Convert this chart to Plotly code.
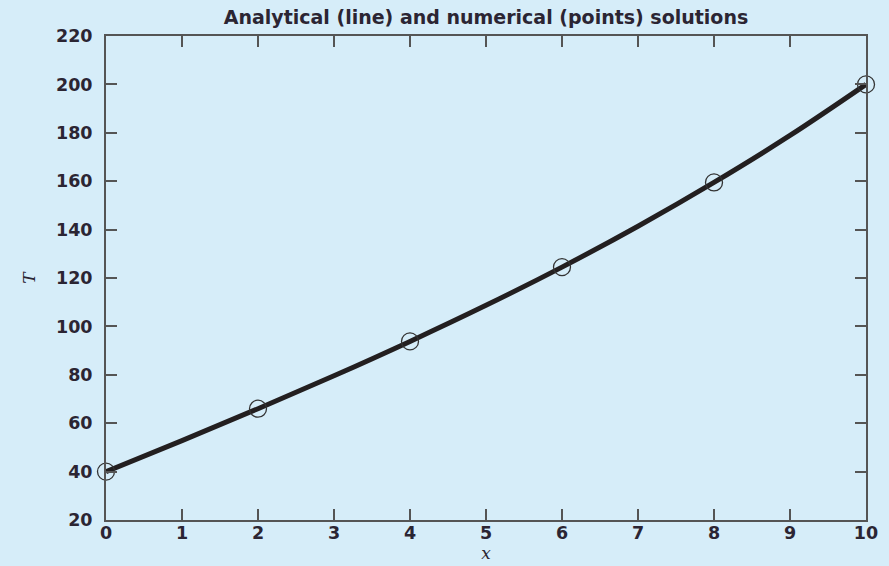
import plotly.graph_objects as go

# Analytical solution (line), read at integer x
x_line = [0, 1, 2, 3, 4, 5, 6, 7, 8, 9, 10]
T_line = [40.0, 52.8, 66.0, 79.6, 93.8, 108.7, 124.5, 141.4, 159.5, 178.9, 200.0]

# Numerical solution (points)
x_pts = [0, 2, 4, 6, 8, 10]
T_pts = [40.0, 66.0, 93.8, 124.5, 159.5, 200.0]

x_ticks = [0, 1, 2, 3, 4, 5, 6, 7, 8, 9, 10]
y_ticks = [20, 40, 60, 80, 100, 120, 140, 160, 180, 200, 220]

bg = "#d6edf9"
ink = "#2b2533"
fig = go.Figure()
fig.add_trace(go.Scatter(x=x_line, y=T_line, mode="lines", line=dict(color="#231f20", width=5, shape="spline"),
                         showlegend=False, cliponaxis=False))
fig.add_trace(go.Scatter(x=x_pts, y=T_pts, mode="markers",
                         marker=dict(symbol="circle-open", size=17, color="#333333", line=dict(width=1.3, color="#333333")),
                         showlegend=False, cliponaxis=False))

tickfont = dict(family="DejaVu Sans, Verdana, sans-serif", size=17.5, color=ink, weight="bold")
fig.update_layout(
    width=889, height=566,
    paper_bgcolor=bg, plot_bgcolor=bg,
    margin=dict(l=106, r=23, t=36, b=46, autoexpand=False),
    title=dict(text="<b>Analytical (line) and numerical (points) solutions</b>", x=0.5, xref="paper", xanchor="center",
               y=0.97, yref="container", yanchor="middle",
               font=dict(family="DejaVu Sans, Verdana, sans-serif", size=19, color=ink)),
    xaxis=dict(range=[0, 10], tickvals=x_ticks, ticks="inside", ticklen=11, tickwidth=2, tickcolor="#555555",
               showline=True, linecolor="#555555", linewidth=2, mirror="ticks", showgrid=False, zeroline=False,
               tickfont=tickfont, ticklabelstandoff=-4, automargin=False,
               title=dict(text="<i>x</i>", standoff=2, font=dict(family="DejaVu Serif, Liberation Serif, serif", size=17, color=ink))),
    yaxis=dict(range=[20, 220], tickvals=y_ticks, ticks="inside", ticklen=11, tickwidth=2, tickcolor="#555555",
               showline=True, linecolor="#555555", linewidth=2, mirror="ticks", showgrid=False, zeroline=False,
               tickfont=tickfont, ticklabelstandoff=8, automargin=False,
               title=dict(text="<i>T</i>", standoff=16, font=dict(family="DejaVu Serif, Liberation Serif, serif", size=17, color=ink))),
)
fig.write_html("out.html", config={"displayModeBar": False}, post_script="document.body.style.margin='0';")
